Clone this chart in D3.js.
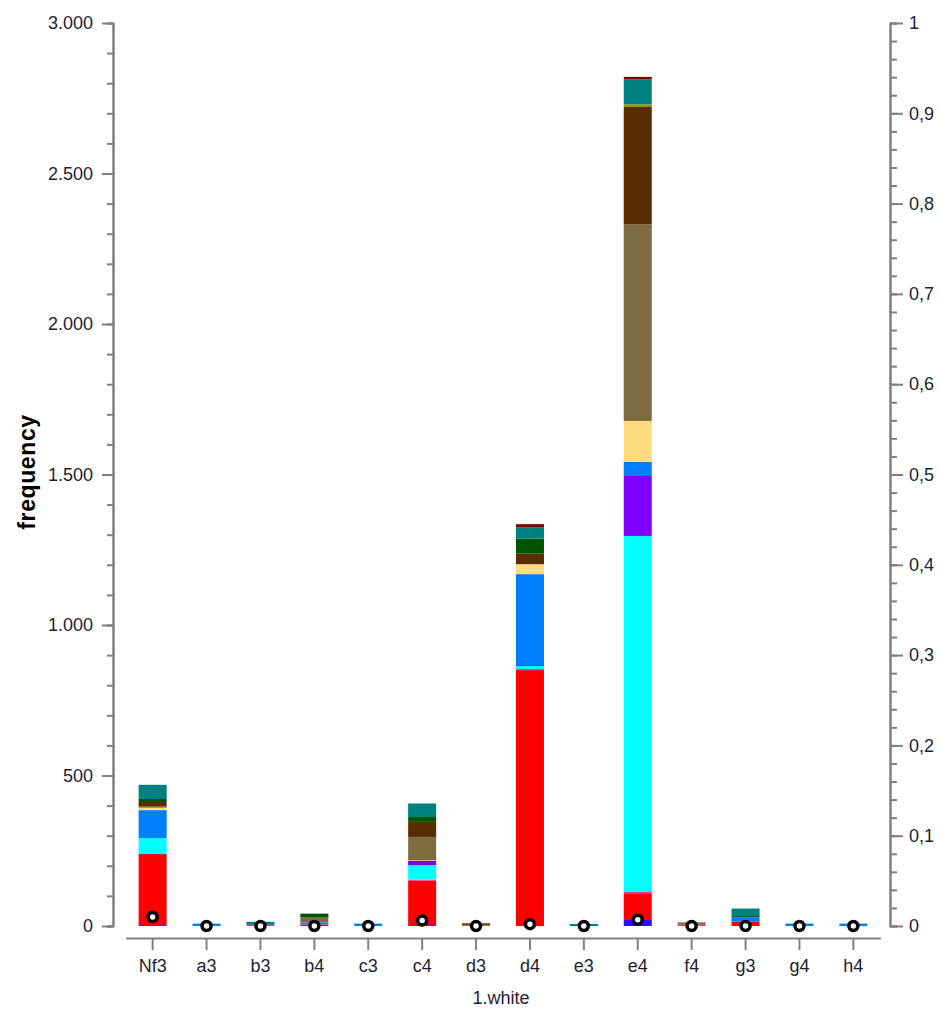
<!DOCTYPE html>
<html>
<head>
<meta charset="utf-8">
<script src="https://cdn.jsdelivr.net/npm/d3@7"></script>
<style>
  body { margin: 0; background: #fff; }
  svg text { font-family: Arial, "Liberation Sans", sans-serif; }
</style>
</head>
<body>
<div id="chart"></div>
<script>
// Opening moves for white
const moves = ["Nf3", "a3", "b3", "b4", "c3", "c4", "d3", "d4", "e3", "e4", "f4", "g3", "g4", "h4"];

// Stacked series, bottom to top (one value per move)
const seriesNames = ["s1", "s2", "s3", "s4", "s5", "s6", "s7", "s8", "s9", "s10", "s11", "s12", "s13"];
const seriesColors = ["#2a10ff", "#ff0000", "#ff3399", "#00ffff", "#8000ff", "#0080ff", "#ffdb80",
                      "#7f6b40", "#5a2d00", "#8c9a00", "#005400", "#008080", "#800000"];
const s1  = [3, 0, 0, 0, 0, 3, 0, 0, 0, 20, 0, 0, 0, 0];
const s2  = [236, 0, 0, 5, 0, 148, 0, 850, 0, 89, 0, 14, 0, 0];
const s3  = [0, 0, 4, 0, 0, 3, 0, 4, 0, 4, 4, 0, 0, 0];
const s4  = [53, 0, 0, 0, 0, 48, 0, 10, 0, 1183, 0, 0, 0, 0];
const s5  = [0, 0, 0, 0, 0, 14, 0, 3, 0, 199, 0, 0, 0, 0];
const s6  = [93, 8, 0, 7, 8, 0, 0, 302, 0, 47, 0, 15, 8, 8];
const s7  = [8, 0, 0, 0, 0, 2, 0, 33, 0, 136, 0, 0, 0, 0];
const s8  = [4, 0, 0, 16, 0, 78, 4, 0, 0, 653, 8, 0, 0, 0];
const s9  = [15, 0, 0, 0, 0, 50, 5, 35, 0, 390, 0, 0, 0, 0];
const s10 = [0, 0, 0, 0, 0, 0, 0, 0, 0, 9, 0, 0, 0, 0];
const s11 = [10, 0, 0, 13, 0, 16, 0, 50, 0, 0, 0, 4, 0, 0];
const s12 = [47, 0, 10, 0, 0, 45, 0, 37, 7, 83, 0, 25, 0, 0];
const s13 = [0, 0, 0, 0, 0, 0, 0, 11, 0, 8, 0, 0, 0, 0];
const seriesValues = [s1, s2, s3, s4, s5, s6, s7, s8, s9, s10, s11, s12, s13];

// Ratio markers on the right axis
const ratio = [0.010, 0, 0, 0, 0, 0.006, 0, 0.002, 0, 0.007, 0, 0, 0, 0];

// Axis ticks
const leftTicks = [0, 500, 1000, 1500, 2000, 2500, 3000];
const leftMinor = d3.range(0, 3001, 100);
const rightTicks = d3.range(0, 11).map(d => d / 10);
const rightMinor = d3.range(0, 51).map(d => d / 50);

const width = 941, height = 1009;
const svg = d3.select("#chart").append("svg")
    .attr("width", width)
    .attr("height", height);

const locale = d3.formatLocale({ decimal: ",", thousands: ".", grouping: [3], currency: ["", ""] });
const fmtLeft = locale.format(",d");
const fmtRight = locale.format(".1~f");

const x = d3.scaleBand().domain(moves).range([125.7, 880.3]).paddingInner(0.48).paddingOuter(0.24);
const y = d3.scaleLinear().domain([0, 3000]).range([926, 23]);
const y2 = d3.scaleLinear().domain([0, 1]).range([926, 23]);

// build table for stacking
const table = moves.map((m, i) => {
    const row = { move: m };
    seriesNames.forEach((s, j) => { row[s] = seriesValues[j][i]; });
    return row;
});
const stacked = d3.stack().keys(seriesNames)(table);

const axisColor = "#808080";
const textColor = "#1e1e34";

// bars
svg.append("g").selectAll("g")
    .data(stacked)
    .join("g")
    .attr("fill", (d, i) => seriesColors[i])
    .selectAll("rect")
    .data(d => d.filter(p => p[1] > p[0]))
    .join("rect")
    .attr("x", d => x(d.data.move))
    .attr("width", x.bandwidth())
    .attr("y", d => y(d[1]))
    .attr("height", d => y(d[0]) - y(d[1]));

function styleAxis(g) {
    g.selectAll("path, line").attr("stroke", axisColor).attr("stroke-width", 2);
    g.selectAll("text").attr("fill", textColor).style("font-size", "18px");
}

// left axis
svg.append("g")
    .attr("transform", "translate(113,0)")
    .call(d3.axisLeft(y).tickValues(leftMinor).tickSize(6).tickFormat(""))
    .call(styleAxis);
svg.append("g")
    .attr("transform", "translate(113,0)")
    .call(d3.axisLeft(y).tickValues(leftTicks).tickSize(11).tickSizeOuter(0).tickPadding(9).tickFormat(fmtLeft))
    .call(styleAxis);

// right axis
svg.append("g")
    .attr("transform", "translate(890,0)")
    .call(d3.axisRight(y2).tickValues(rightMinor).tickSize(7).tickFormat(""))
    .call(styleAxis);
svg.append("g")
    .attr("transform", "translate(890,0)")
    .call(d3.axisRight(y2).tickValues(rightTicks).tickSize(13).tickSizeOuter(0).tickPadding(6).tickFormat(fmtRight))
    .call(styleAxis);

// bottom axis
svg.append("g")
    .attr("transform", "translate(0,938)")
    .call(d3.axisBottom(x).tickSize(12).tickSizeOuter(0).tickPadding(9))
    .call(styleAxis);

// ratio markers
svg.append("g").selectAll("circle")
    .data(moves)
    .join("circle")
    .attr("cx", d => x(d) + x.bandwidth() / 2)
    .attr("cy", (d, i) => y2(ratio[i]))
    .attr("r", 4.5)
    .attr("fill", "#fff")
    .attr("stroke", "#000")
    .attr("stroke-width", 3.5);

// axis titles
svg.append("text")
    .attr("transform", "translate(35,472) rotate(-90)")
    .attr("text-anchor", "middle")
    .style("font-size", "23px")
    .style("font-weight", "bold")
    .style("letter-spacing", "0.6px")
    .attr("fill", "#000")
    .text("frequency");

svg.append("text")
    .attr("x", 501)
    .attr("y", 1004)
    .attr("text-anchor", "middle")
    .style("font-size", "18px")
    .attr("fill", textColor)
    .text("1.white");
</script>
</body>
</html>
